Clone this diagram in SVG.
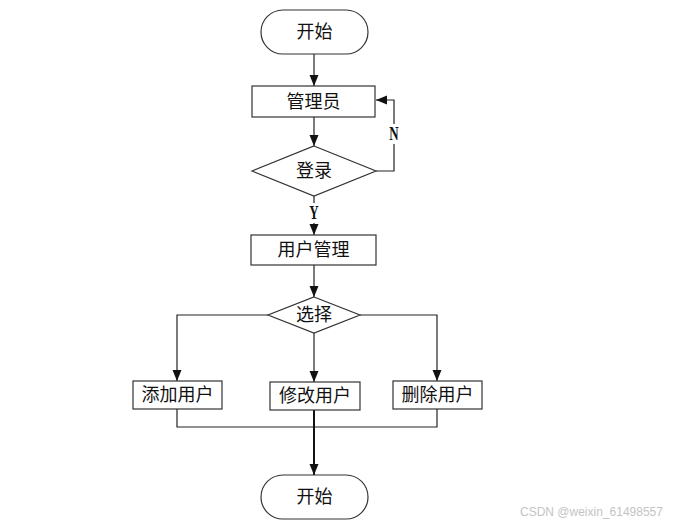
<svg xmlns="http://www.w3.org/2000/svg" width="678" height="526" viewBox="0 0 678 526">
<defs>
<style>
.shape{fill:#fff;stroke:#333;stroke-width:1.2}
.line{fill:none;stroke:#222;stroke-width:1.2}
.thick{fill:none;stroke:#111;stroke-width:2}
.lbl{font-family:"Liberation Serif","Noto Sans CJK SC",serif;font-size:18px;fill:#111;text-anchor:middle;dominant-baseline:central}
.yn{font-family:"Liberation Serif",serif;font-size:18px;font-weight:bold;fill:#111;text-anchor:middle;dominant-baseline:central}
.wm{font-family:"Liberation Sans",Arial,sans-serif;font-size:12px;fill:#c4c4c4}
</style>
<marker id="arr" markerUnits="userSpaceOnUse" markerWidth="11" markerHeight="11" viewBox="0 0 11 11" refX="11" refY="5.5" orient="auto">
<path d="M0,1 L11,5.5 L0,10 Z" fill="#111"/>
</marker>
</defs>
<rect width="678" height="526" fill="#fff"/>
<g id="connectors">
<line class="line" x1="314" y1="54" x2="314" y2="86" marker-end="url(#arr)"/>
<line class="line" x1="314" y1="117" x2="314" y2="146" marker-end="url(#arr)"/>
<polyline class="line" points="376,171 394,171 394,100 376,100" marker-end="url(#arr)"/>
<line class="line" x1="314" y1="196" x2="314" y2="235" marker-end="url(#arr)"/>
<line class="line" x1="314" y1="265" x2="314" y2="297" marker-end="url(#arr)"/>
<polyline class="line" points="268,315 177,315 177,381" marker-end="url(#arr)"/>
<line class="line" x1="314" y1="333" x2="314" y2="382" marker-end="url(#arr)"/>
<polyline class="line" points="360,315 437,315 437,381" marker-end="url(#arr)"/>
<polyline class="line" points="177,409 177,427 437,427 437,409"/>
<line class="thick" x1="314" y1="410" x2="314" y2="475" marker-end="url(#arr)"/>
<rect x="387" y="124" width="14" height="20" fill="#fff"/>
<text class="yn" transform="translate(394,134) scale(0.72,1)">N</text>
<rect x="307" y="203" width="14" height="20" fill="#fff"/>
<text class="yn" transform="translate(314,213) scale(0.72,1)">Y</text>
</g>
<g id="start">
<rect class="shape" x="261" y="10" width="107" height="44" rx="22"/>
<text class="lbl" x="314.5" y="32">开始</text>
</g>
<g id="admin">
<rect class="shape" x="252" y="86" width="123" height="31"/>
<text class="lbl" x="313.5" y="101.5">管理员</text>
</g>
<g id="login">
<polygon class="shape" points="314,146 376,171 314,196 252,171"/>
<text class="lbl" x="314" y="171">登录</text>
</g>
<g id="usermgmt">
<rect class="shape" x="251" y="235" width="125" height="30"/>
<text class="lbl" x="313.5" y="250">用户管理</text>
</g>
<g id="choose">
<polygon class="shape" points="314,297 360,315 314,333 268,315"/>
<text class="lbl" x="314" y="315">选择</text>
</g>
<g id="add">
<rect class="shape" x="133" y="381" width="89" height="28"/>
<text class="lbl" x="177.5" y="395">添加用户</text>
</g>
<g id="edit">
<rect class="shape" x="270" y="382" width="90" height="28"/>
<text class="lbl" x="315" y="396">修改用户</text>
</g>
<g id="delete">
<rect class="shape" x="393" y="381" width="89" height="28"/>
<text class="lbl" x="437.5" y="395">删除用户</text>
</g>
<g id="end">
<rect class="shape" x="261" y="475" width="107" height="44" rx="22"/>
<text class="lbl" x="314.5" y="497">开始</text>
</g>
<text class="wm" x="520" y="516">CSDN @weixin_61498557</text>
</svg>
